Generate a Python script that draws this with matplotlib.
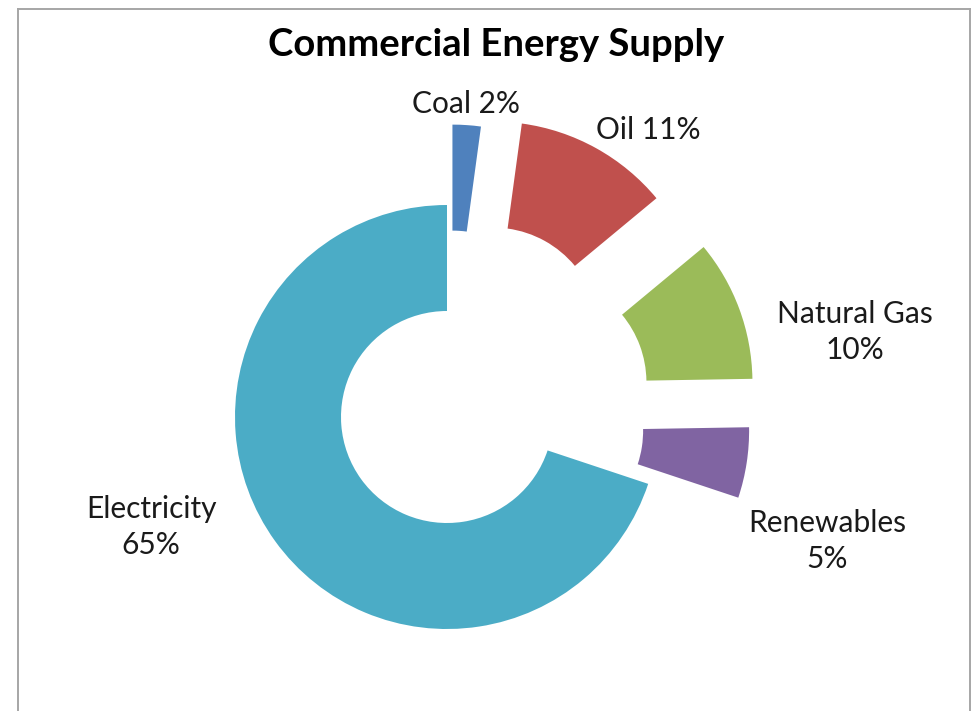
import matplotlib
matplotlib.use("Agg")
import matplotlib.pyplot as plt
from matplotlib.lines import Line2D

# ------------------------------------------------------------
# Data
# ------------------------------------------------------------
sources = ["Coal", "Oil", "Natural Gas", "Renewables", "Electricity"]
shares = [2, 11, 10, 5, 65]
label_text = ["Coal 2%", "Oil 11%", "Natural Gas\n10%", "Renewables\n5%", "Electricity\n65%"]

# ------------------------------------------------------------
# Styling
# ------------------------------------------------------------
COLORS = ["#4F81BD", "#C0504D", "#9BBB59", "#8064A2", "#4BACC6"]
EXPLODE = [0.38, 0.45, 0.47, 0.43, 0.0]
LABEL_POS = [(0.09, 1.475), (0.948, 1.354), (1.925, 0.401), (1.792, -0.585), (-1.396, -0.519)]
FONT = "Lato"

W, H, DPI = 974, 711, 100
R_PX = 212                  # outer radius in pixels
CX, CY = 447, 417           # donut centre (pixels from top-left)

fig = plt.figure(figsize=(W / DPI, H / DPI), dpi=DPI)
ax = fig.add_axes([0, 0, 1, 1])

ax.pie(
    shares,
    colors=COLORS,
    explode=EXPLODE,
    startangle=90,
    counterclock=False,
    radius=1.0,
    wedgeprops=dict(width=0.5, edgecolor="none"),
)

# one data unit == outer radius
ax.set_xlim(-CX / R_PX, (W - CX) / R_PX)
ax.set_ylim(-(H - CY) / R_PX, CY / R_PX)
ax.set_aspect("equal", adjustable="datalim")
ax.axis("off")

for txt, (x, y) in zip(label_text, LABEL_POS):
    ax.text(x, y, txt, ha="center", va="center", fontsize=21.5,
            family=FONT, color="#1a1a1a", linespacing=1.32)

fig.text(0.509, 0.937, "Commercial Energy Supply", ha="center", va="center",
         fontsize=27.5, fontweight="bold", family=FONT, color="#000000")

# chart frame (bottom edge falls outside the image)
x0, x1 = 18 / W, 970 / W
y_top = 1 - 9 / H
frame = dict(color="#a6a6a6", linewidth=1.4, transform=fig.transFigure)
fig.add_artist(Line2D([x0, x1], [y_top, y_top], **frame))
fig.add_artist(Line2D([x0, x0], [y_top, -0.01], **frame))
fig.add_artist(Line2D([x1, x1], [y_top, -0.01], **frame))

fig.savefig("out.png", dpi=DPI, facecolor="white")
